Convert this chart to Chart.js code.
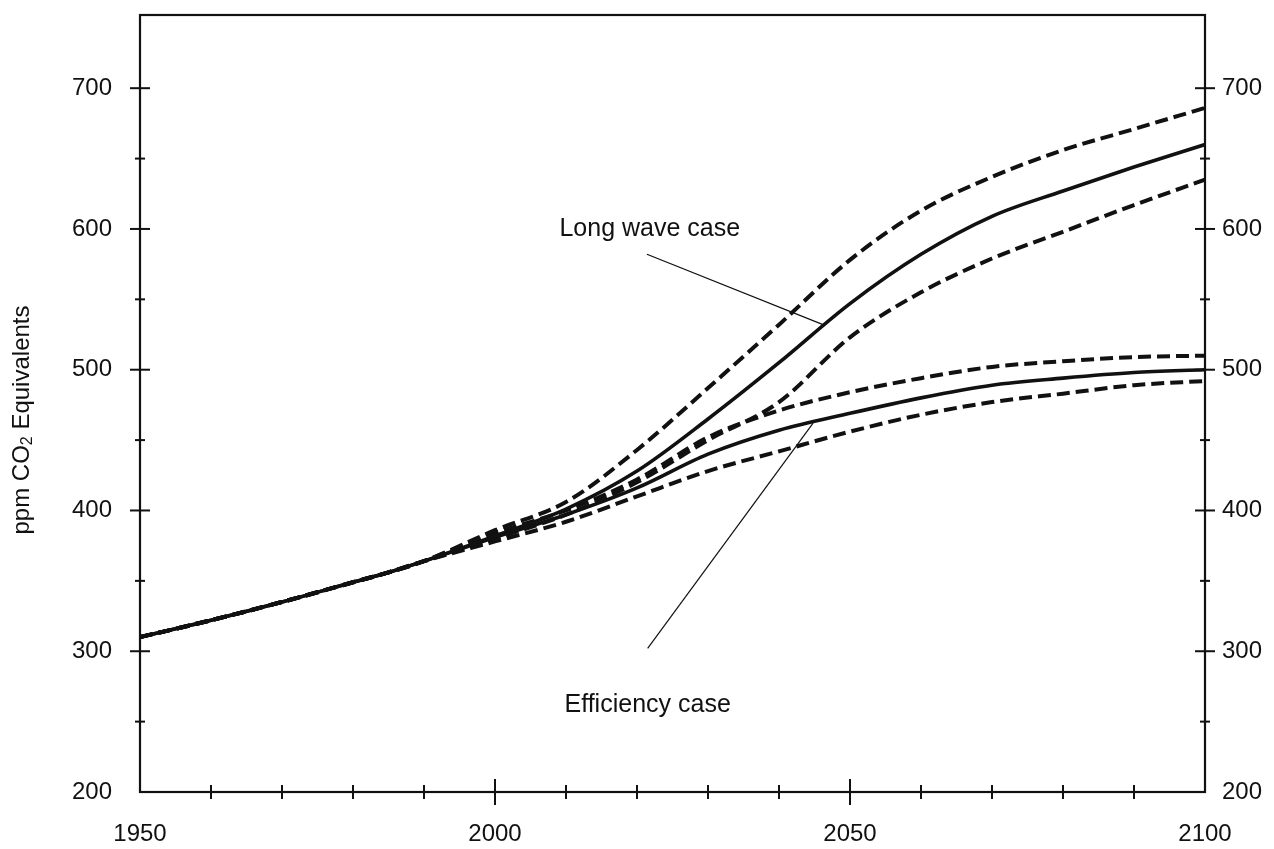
<!DOCTYPE html>
<html>
<head>
<meta charset="utf-8">
<script src="https://cdn.jsdelivr.net/npm/chart.js@4.4.1/dist/chart.umd.min.js"></script>
<style>
    html, body { margin: 0; padding: 0; background: #fff; }
    #wrap { width: 1274px; height: 849px; }
</style>
</head>
<body>
<div id="wrap"><canvas id="co2Chart"></canvas></div>
<script>
// years
const years = [1950, 1960, 1970, 1980, 1985, 1990, 2000, 2010, 2020, 2030, 2040, 2050, 2060, 2070, 2080, 2090, 2100];

// Long wave case (solid = central, dashed = band)
const longWaveHigh = [310, 322, 335, 349, 356, 364, 386, 406, 443, 487, 532, 578, 613, 637, 656, 671, 686];
const longWaveMid  = [310, 322, 335, 349, 356, 364, 382, 401, 428, 465, 505, 547, 582, 609, 627, 644, 660];
const longWaveLow  = [310, 322, 335, 349, 356, 364, 380, 397, 420, 450, 477, 523, 555, 579, 598, 617, 635];

// Efficiency case
const effHigh = [310, 322, 335, 349, 356, 364, 384, 400, 422, 452, 471, 484, 494, 502, 506, 509, 510];
const effMid  = [310, 322, 335, 349, 356, 364, 381, 397, 416, 440, 457, 469, 480, 489, 494, 498, 500];
const effLow  = [310, 322, 335, 349, 356, 364, 378, 392, 410, 428, 442, 456, 468, 477, 483, 489, 492];

// axis ticks
const yTickValues = [200, 250, 300, 350, 400, 450, 500, 550, 600, 650, 700];
const xTickValues = [1950, 1960, 1970, 1980, 1990, 2000, 2010, 2020, 2030, 2040, 2050, 2060, 2070, 2080, 2090, 2100];

// leader lines for the two labels: [year, ppm] end points
const longWaveLeader = [[2021.4, 582], [2046.2, 532]];
const effLeader = [[2021.5, 302], [2044.8, 462]];

const labelLongWave = { text: 'Long wave case', x: 2021.8, y: 600 };
const labelEff = { text: 'Efficiency case', x: 2021.5, y: 262 };

const FONT = "'Liberation Sans', Arial, Helvetica, sans-serif";
const INK = '#111';

const toPoints = (vals) => vals.map((v, i) => ({ x: years[i], y: v }));
const toLeader = (pts) => pts.map(p => ({ x: p[0], y: p[1] }));

const curve = (label, vals, dashed) => ({
    label: label,
    data: toPoints(vals),
    borderColor: INK,
    borderWidth: dashed ? 4 : 3.6,
    borderDash: dashed ? [13, 6] : [],
    pointRadius: 0,
    cubicInterpolationMode: 'monotone',
    fill: false
});

const leader = (label, pts) => ({
    label: label,
    data: toLeader(pts),
    borderColor: INK,
    borderWidth: 1.2,
    pointRadius: 0,
    tension: 0,
    fill: false
});

// box round the plot, ticks that cross the axis lines, labels
const framePlugin = {
    id: 'frame',
    afterDraw(chart) {
        const { ctx, chartArea: a, scales } = chart;
        ctx.save();
        ctx.strokeStyle = INK;
        ctx.lineWidth = 2.2;
        ctx.strokeRect(a.left, a.top, a.right - a.left, a.bottom - a.top);

        const seg = (x1, y1, x2, y2) => {
            ctx.beginPath();
            ctx.moveTo(x1, y1);
            ctx.lineTo(x2, y2);
            ctx.stroke();
        };

        ctx.lineWidth = 2;
        yTickValues.forEach(v => {
            if (v <= 200) return;
            const py = scales.y.getPixelForValue(v);
            const len = v % 100 === 0 ? 10 : 5;
            seg(a.left - len, py, a.left + len, py);
            seg(a.right - len, py, a.right + len, py);
        });
        xTickValues.forEach(v => {
            if (v <= 1950 || v >= 2100) return;
            const px = scales.x.getPixelForValue(v);
            const len = v % 50 === 0 ? 13 : 7;
            seg(px, a.bottom - len, px, a.bottom + len);
        });

        // case labels
        ctx.fillStyle = INK;
        ctx.font = `25px ${FONT}`;
        ctx.textAlign = 'center';
        ctx.textBaseline = 'middle';
        [labelLongWave, labelEff].forEach(l => {
            ctx.fillText(l.text, scales.x.getPixelForValue(l.x), scales.y.getPixelForValue(l.y));
        });

        // y axis title with a real subscript
        const parts = [
            { t: 'ppm CO', size: 24, dy: 0 },
            { t: '2', size: 16, dy: 6 },
            { t: ' Equivalents', size: 24, dy: 0 }
        ];
        let total = 0;
        parts.forEach(p => {
            ctx.font = `${p.size}px ${FONT}`;
            p.w = ctx.measureText(p.t).width;
            total += p.w;
        });
        ctx.translate(22, 420);
        ctx.rotate(-Math.PI / 2);
        ctx.textAlign = 'left';
        ctx.textBaseline = 'middle';
        let cx = -total / 2;
        parts.forEach(p => {
            ctx.font = `${p.size}px ${FONT}`;
            ctx.fillText(p.t, cx, p.dy);
            cx += p.w;
        });
        ctx.restore();
    }
};

const setTicks = (values) => (s) => { s.ticks = values.map(v => ({ value: v })); };

const yTicks = {
    autoSkip: false,
    color: INK,
    font: { family: FONT, size: 24 },
    callback: (v) => v % 100 === 0 ? String(v) : ''
};

const fitY = (w) => (s) => {
    s.width = w;
    s.paddingTop = 0;
    s.paddingBottom = 0;
};

const ctx = document.getElementById('co2Chart').getContext('2d');
new Chart(ctx, {
    type: 'line',
    data: {
        datasets: [
            curve('Long wave high', longWaveHigh, true),
            curve('Long wave case', longWaveMid, false),
            curve('Long wave low', longWaveLow, true),
            curve('Efficiency high', effHigh, true),
            curve('Efficiency case', effMid, false),
            curve('Efficiency low', effLow, true),
            leader('lw leader', longWaveLeader),
            leader('eff leader', effLeader)
        ]
    },
    options: {
        responsive: true,
        maintainAspectRatio: false,
        animation: false,
        layout: { padding: { top: 15, left: 0, right: 0, bottom: 0 } },
        plugins: {
            legend: { display: false },
            tooltip: { enabled: false }
        },
        scales: {
            x: {
                type: 'linear',
                min: 1950,
                max: 2100,
                grid: { display: false, drawTicks: false },
                border: { display: false },
                afterBuildTicks: setTicks(xTickValues),
                ticks: {
                    autoSkip: false,
                    maxRotation: 0,
                    padding: 28,
                    color: INK,
                    font: { family: FONT, size: 24 },
                    callback: (v) => v % 50 === 0 ? String(v) : ''
                },
                afterFit: (s) => {
                    s.height = 57;
                    s.paddingLeft = 0;
                    s.paddingRight = 0;
                }
            },
            y: {
                position: 'left',
                min: 200,
                max: 752,
                grid: { display: false, drawTicks: false },
                border: { display: false },
                afterBuildTicks: setTicks(yTickValues),
                ticks: { ...yTicks, padding: 28 },
                afterFit: fitY(140)
            },
            y2: {
                position: 'right',
                min: 200,
                max: 752,
                grid: { display: false, drawTicks: false },
                border: { display: false },
                afterBuildTicks: setTicks(yTickValues),
                ticks: { ...yTicks, padding: 17 },
                afterFit: fitY(69)
            }
        }
    },
    plugins: [framePlugin]
});
</script>
</body>
</html>
